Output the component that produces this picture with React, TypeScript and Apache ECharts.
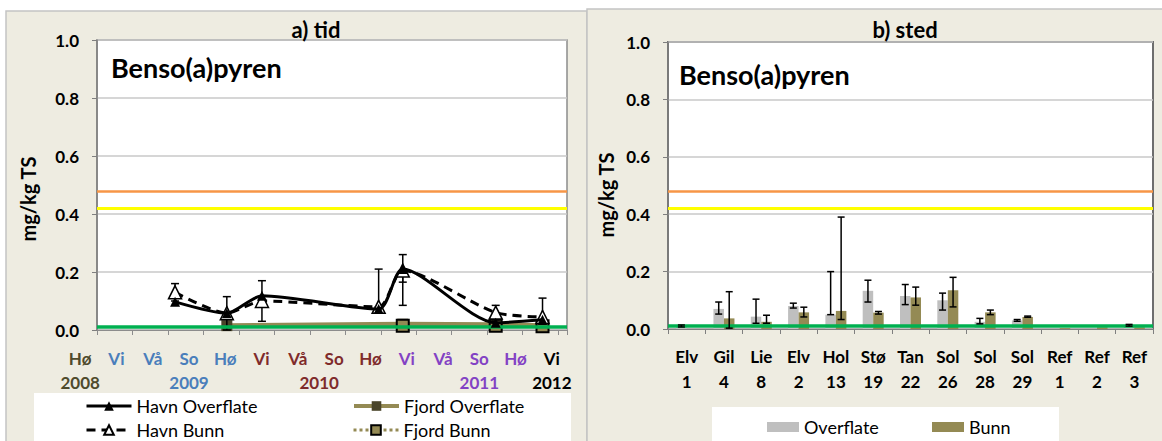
import React, { useEffect, useRef } from 'react';
import * as echarts from 'echarts';

// ---------- a) tid ----------
const seasons = ['Hø', 'Vi', 'Vå', 'So', 'Hø', 'Vi', 'Vå', 'So', 'Hø', 'Vi', 'Vå', 'So', 'Hø', 'Vi'];
const seasonYears = ['2008', '', '', '2009', '', '', '', '2010', '', '', '', '2011', '', '2012'];
const seasonGroup = ['o', 'b', 'b', 'b', 'b', 'r', 'r', 'r', 'r', 'p', 'p', 'p', 'p', 'k'];

const sampleTime = [2.2, 3.66, 4.65, 7.94, 8.62, 11.24, 12.56];
const havnOverflate = [0.097, 0.058, 0.118, 0.072, 0.21, 0.025, 0.035];
const havnBunn = [0.13, 0.058, 0.1, 0.08, 0.205, 0.06, 0.045];

const fjordOverflateTime = [3.66, 8.62, 11.24, 12.56];
const fjordOverflate = [0.015, 0.02, 0.018, 0.015];
const fjordBunnTime = [8.62, 11.24, 12.56];
const fjordBunn = [0.015, 0.015, 0.013];

const havnErrTime = [2.2, 3.66, 4.65, 7.94, 8.62, 8.62, 11.24, 12.56];
const havnErrLow = [0.1, 0.0, 0.03, 0.08, 0.165, 0.085, 0.035, 0.02];
const havnErrHigh = [0.16, 0.115, 0.17, 0.21, 0.26, 0.2, 0.085, 0.11];

// ---------- b) sted ----------
const stationNames = ['Elv', 'Gil', 'Lie', 'Elv', 'Hol', 'Stø', 'Tan', 'Sol', 'Sol', 'Sol', 'Ref', 'Ref', 'Ref'];
const stationNums = ['1', '4', '8', '2', '13', '19', '22', '26', '28', '29', '1', '2', '3'];
const overflate = [0.008, 0.07, 0.043, 0.08, 0.05, 0.133, 0.115, 0.1, 0.025, 0.03, 0, 0, 0.012];
const bunn = [0, 0.037, 0.025, 0.058, 0.063, 0.057, 0.11, 0.135, 0.058, 0.042, 0.003, 0.006, 0.006];
const overflateErrLow = [0.007, 0.052, 0.02, 0.073, 0.05, 0.094, 0.085, 0.066, 0.018, 0.027, null, null, 0.01];
const overflateErrHigh = [0.014, 0.094, 0.104, 0.09, 0.2, 0.17, 0.155, 0.125, 0.037, 0.033, null, null, 0.016];
const bunnErrLow = [null, 0.003, 0.02, 0.042, 0.033, 0.052, 0.083, 0.077, 0.05, 0.041, null, null, null];
const bunnErrHigh = [null, 0.13, 0.048, 0.076, 0.39, 0.061, 0.146, 0.18, 0.066, 0.045, null, null, null];

// limit lines
const orangeLimit = 0.48;
const yellowLimit = 0.42;
const greenLimit = 0.005;

const FONT = 'Lato, "Open Sans", sans-serif';
const BAR_W = 10.5;
const OLIVE = '#948A54';

const zip = (a: number[], b: number[]) => a.map((v, i) => [v, b[i]]);
const errData = (xs: number[], lo: (number | null)[], hi: (number | null)[]) =>
  xs.map((x, i) => [x, lo[i], hi[i]]).filter((d) => d[1] !== null && d[2] !== null);

const errRender = (offset: number, cap: number) => (params: any, api: any) => {
  const x = api.value(0);
  const a = api.coord([x, api.value(1)]);
  const b = api.coord([x, api.value(2)]);
  const cx = a[0] + offset;
  const style = { stroke: '#000', lineWidth: 1.5 };
  return {
    type: 'group',
    children: [
      { type: 'line', shape: { x1: cx, y1: a[1], x2: cx, y2: b[1] }, style },
      { type: 'line', shape: { x1: cx - cap, y1: a[1], x2: cx + cap, y2: a[1] }, style },
      { type: 'line', shape: { x1: cx - cap, y1: b[1], x2: cx + cap, y2: b[1] }, style },
    ],
  };
};

const limitLines = {
  silent: true,
  symbol: 'none',
  label: { show: false },
  animation: false,
  data: [
    { yAxis: orangeLimit, lineStyle: { color: '#F79646', width: 2.5, type: 'solid' } },
    { yAxis: yellowLimit, lineStyle: { color: '#FFFF00', width: 3, type: 'solid' } },
    { yAxis: greenLimit, lineStyle: { color: '#00B050', width: 3.5, type: 'solid' } },
  ],
};

const yAxisBase = (grid: number) => ({
  type: 'value',
  gridIndex: grid,
  min: 0,
  max: 1,
  interval: 0.2,
  axisLine: { show: true, lineStyle: { color: '#7F7F7F', width: 1.5 } },
  axisTick: { show: true, length: 5, lineStyle: { color: '#7F7F7F' } },
  axisLabel: {
    formatter: (v: number) => v.toFixed(1),
    fontFamily: FONT,
    fontWeight: 'bold',
    fontSize: 17,
    color: '#000',
    margin: 18,
  },
  splitLine: { show: true, lineStyle: { color: '#C8C8C8', width: 1.5 } },
});

const seasonRich: any = {};
const groupColors: Record<string, string> = {
  o: '#4F4A2C',
  b: '#4A7EBB',
  r: '#7F2B2B',
  p: '#8342C4',
  k: '#000000',
};
Object.keys(groupColors).forEach((k) => {
  seasonRich[k] = { color: groupColors[k], fontFamily: FONT, fontWeight: 'bold', fontSize: 17, lineHeight: 24 };
  seasonRich[k + 's'] = { ...seasonRich[k], padding: [0, 30, 0, 0] };
});

const legendText = { fontFamily: FONT, fontSize: 18, color: '#000' };
const lineLegend = (name: string, left: number, top: number, width: number) => ({
  data: [name],
  left,
  top,
  padding: 0,
  itemWidth: 45,
  itemHeight: 12,
  itemGap: 2,
  lineStyle: { width },
  textStyle: legendText,
});

export default function App() {
  const ref = useRef<HTMLDivElement>(null);

  useEffect(() => {
    if (!ref.current) return;
    const chart = echarts.init(ref.current, undefined, { renderer: 'svg' });
    const option: any = {
      animation: false,
      backgroundColor: '#ffffff',
      textStyle: { fontFamily: FONT },
      graphic: [
        { type: 'rect', z: -10, shape: { x: 6, y: 11, width: 581, height: 440 }, style: { fill: '#EEECE1', stroke: '#C4C4C4', lineWidth: 1.5 } },
        { type: 'rect', z: -10, shape: { x: 587, y: 9, width: 580, height: 440 }, style: { fill: '#EEECE1', stroke: '#C4C4C4', lineWidth: 1.5 } },
        { type: 'rect', z: -5, shape: { x: 34, y: 393, width: 537, height: 60 }, style: { fill: '#ffffff' } },
        { type: 'rect', z: -5, shape: { x: 712, y: 407, width: 347, height: 40 }, style: { fill: '#ffffff' } },
        { type: 'text', z: 100, x: 316, y: 29, style: { text: 'a) tid', align: 'center', verticalAlign: 'middle', font: `bold 22px ${FONT}`, fill: '#000' } },
        { type: 'text', z: 100, x: 905, y: 29, style: { text: 'b) sted', align: 'center', verticalAlign: 'middle', font: `bold 22px ${FONT}`, fill: '#000' } },
        { type: 'text', z: 100, x: 111, y: 67, style: { text: 'Benso(a)pyren', align: 'left', verticalAlign: 'middle', font: `bold 27px ${FONT}`, fill: '#000' } },
        { type: 'text', z: 100, x: 679, y: 74, style: { text: 'Benso(a)pyren', align: 'left', verticalAlign: 'middle', font: `bold 27px ${FONT}`, fill: '#000' } },
        { type: 'text', z: 100, x: 28, y: 199, rotation: Math.PI / 2, style: { text: 'mg/kg TS', align: 'center', verticalAlign: 'middle', font: `bold 20px ${FONT}`, fill: '#000' } },
        { type: 'text', z: 100, x: 606, y: 195, rotation: Math.PI / 2, style: { text: 'mg/kg TS', align: 'center', verticalAlign: 'middle', font: `bold 20px ${FONT}`, fill: '#000' } },
      ],
      grid: [
        { left: 97, top: 40, width: 470, height: 290, show: true, backgroundColor: '#ffffff', borderColor: '#8C8C8C', borderWidth: 1.5 },
        { left: 62, top: 40, width: 508, height: 290 },
        { left: 668, top: 42, width: 485, height: 287, show: true, backgroundColor: '#ffffff', borderColor: '#6E6E6E', borderWidth: 2 },
      ],
      xAxis: [
        {
          type: 'value',
          gridIndex: 0,
          min: 0,
          max: 13.25,
          interval: 1,
          axisLabel: { show: false },
          splitLine: { show: false },
          axisTick: { show: true, length: 5, lineStyle: { color: '#8C8C8C' } },
          axisLine: { lineStyle: { color: '#8C8C8C' } },
        },
        {
          type: 'category',
          gridIndex: 1,
          data: seasons,
          axisLine: { show: false },
          axisTick: { show: false },
          axisLabel: {
            interval: 0,
            margin: 16,
            formatter: (v: string, i: number) => {
              const k = seasonGroup[i];
              const y = seasonYears[i];
              if (!y) return `{${k}|${v}}`;
              return `{${k}|${v}}\n{${y === '2010' ? k + 's' : k}|${y}}`;
            },
            rich: seasonRich,
          },
        },
        {
          type: 'category',
          gridIndex: 2,
          data: stationNames.map((n, i) => `${n}\n${stationNums[i]}`),
          axisLine: { lineStyle: { color: '#7F7F7F' } },
          axisTick: { show: true, length: 5, lineStyle: { color: '#7F7F7F' } },
          axisLabel: { interval: 0, margin: 15, fontFamily: FONT, fontWeight: 'bold', fontSize: 17, lineHeight: 25, color: '#000' },
        },
      ],
      yAxis: [
        yAxisBase(0),
        { type: 'value', gridIndex: 1, min: 0, max: 1, show: false },
        yAxisBase(2),
      ],
      legend: [
        lineLegend('Havn Overflate', 85, 397, 3),
        lineLegend('Fjord Overflate', 352, 397, 4),
        lineLegend('Havn Bunn', 85, 421, 3),
        lineLegend('Fjord Bunn', 352, 421, 3),
        { data: ['Overflate'], left: 767, top: 418, padding: 0, itemWidth: 32, itemHeight: 10, icon: 'rect', textStyle: legendText },
        { data: ['Bunn'], left: 932, top: 418, padding: 0, itemWidth: 32, itemHeight: 10, icon: 'rect', textStyle: legendText },
      ],
      series: [
        {
          name: 'Fjord Overflate',
          type: 'line',
          xAxisIndex: 0,
          yAxisIndex: 0,
          data: zip(fjordOverflateTime, fjordOverflate),
          symbol: 'rect',
          symbolSize: 11,
          lineStyle: { color: OLIVE, width: 5 },
          itemStyle: { color: '#4A452A' },
          markLine: limitLines,
          z: 2,
        },
        {
          name: 'Fjord Bunn',
          type: 'line',
          xAxisIndex: 0,
          yAxisIndex: 0,
          data: zip(fjordBunnTime, fjordBunn),
          symbol: 'rect',
          symbolSize: 12,
          lineStyle: { color: OLIVE, width: 2.5, type: 'dotted' },
          itemStyle: { color: OLIVE, borderColor: '#000', borderWidth: 2 },
          z: 3,
        },
        {
          type: 'custom',
          xAxisIndex: 0,
          yAxisIndex: 0,
          data: errData(havnErrTime, havnErrLow, havnErrHigh),
          renderItem: errRender(0, 4),
          z: 4,
        },
        {
          name: 'Havn Bunn',
          type: 'line',
          xAxisIndex: 0,
          yAxisIndex: 0,
          data: zip(sampleTime, havnBunn),
          smooth: 0.25,
          symbol: 'triangle',
          symbolSize: 13,
          lineStyle: { color: '#000', width: 3, type: [9, 6] },
          itemStyle: { color: '#ffffff', borderColor: '#000', borderWidth: 1.5 },
          z: 5,
        },
        {
          name: 'Havn Overflate',
          type: 'line',
          xAxisIndex: 0,
          yAxisIndex: 0,
          data: zip(sampleTime, havnOverflate),
          smooth: 0.25,
          symbol: 'triangle',
          symbolSize: 10,
          lineStyle: { color: '#000', width: 3 },
          itemStyle: { color: '#000' },
          z: 6,
        },
        {
          name: 'Overflate',
          type: 'bar',
          xAxisIndex: 2,
          yAxisIndex: 2,
          data: overflate,
          barWidth: BAR_W,
          barGap: '0%',
          itemStyle: { color: '#BFBFBF' },
          markLine: limitLines,
        },
        {
          name: 'Bunn',
          type: 'bar',
          xAxisIndex: 2,
          yAxisIndex: 2,
          data: bunn,
          barWidth: BAR_W,
          barGap: '0%',
          itemStyle: { color: OLIVE },
        },
        {
          type: 'custom',
          xAxisIndex: 2,
          yAxisIndex: 2,
          data: errData(stationNames.map((_, i) => i), overflateErrLow, overflateErrHigh),
          renderItem: errRender(-BAR_W / 2, 3.5),
          z: 5,
        },
        {
          type: 'custom',
          xAxisIndex: 2,
          yAxisIndex: 2,
          data: errData(stationNames.map((_, i) => i), bunnErrLow, bunnErrHigh),
          renderItem: errRender(BAR_W / 2, 3.5),
          z: 5,
        },
      ],
    };
    chart.setOption(option);
    return () => chart.dispose();
  }, []);

  return (
    <div
      ref={ref}
      style={{ position: 'absolute', left: 0, top: 0, width: 1162, height: 441 }}
    />
  );
}
